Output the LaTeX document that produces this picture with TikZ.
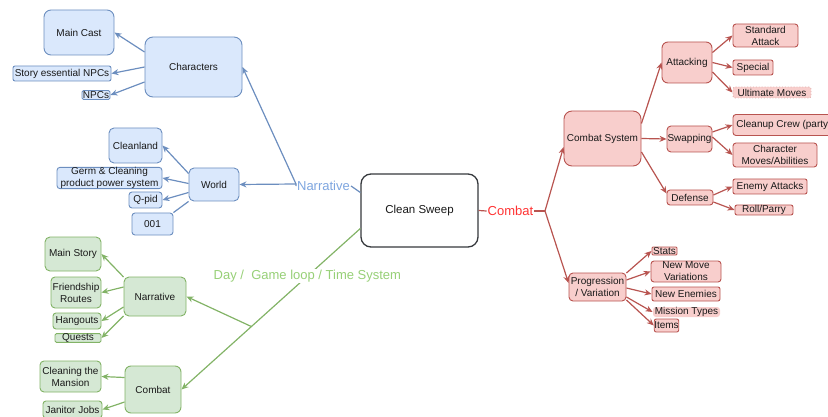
\documentclass[tikz,border=0pt]{standalone}
\usepackage{fontspec}
\setmainfont{Liberation Sans}
\usetikzlibrary{arrows.meta}

\definecolor{bfill}{HTML}{DAE8FC}
\definecolor{bline}{HTML}{6C8EBF}
\definecolor{btext}{HTML}{7EA6E0}
\definecolor{gfill}{HTML}{D5E8D4}
\definecolor{gline}{HTML}{82B366}
\definecolor{gtext}{HTML}{97D077}
\definecolor{rfill}{HTML}{F8CECC}
\definecolor{rline}{HTML}{B85450}
\definecolor{rtext}{HTML}{FF3333}
\definecolor{cdark}{HTML}{36393D}

\tikzset{
  sz/.style 2 args={minimum width=#1pt, minimum height=#2pt},
  rc/.style={rounded corners=#1pt},
  box/.style={rectangle, rounded corners=3pt, inner sep=0pt, line width=0.9pt,
    align=center, text=black!90, font=\fontsize{10}{12}\selectfont},
  bbox/.style={box, draw=bline, fill=bfill},
  gbox/.style={box, draw=gline, fill=gfill},
  rbox/.style={box, draw=rline, fill=rfill},
  lbl/.style={font=\fontsize{13}{15}\selectfont, inner sep=1pt, fill=white},
  link/.style={line width=1.2pt},
  edge/.style={link, -{Stealth[length=7pt,width=6pt]}},
  bedge/.style={edge, draw=bline},
  gedge/.style={edge, draw=gline},
  redge/.style={edge, draw=rline},
}

\begin{document}
\begin{tikzpicture}[x=1pt,y=-1pt]
\useasboundingbox (0,0) rectangle (828,417);
\clip (0,0) rectangle (828,417);

% centre
\node[box, draw=cdark, fill=white, line width=1.3pt, sz={117}{73}, rc=10,
  font=\fontsize{11.5}{13}\selectfont] (sweep) at (419.5,210.5) {Clean Sweep};

% narrative branch
\node[bbox, sz={97}{60}, rc=8] (chars) at (193.5,67) {Characters};
\node[bbox, sz={70}{45}, rc=7] (maincast) at (79,32.5) {Main Cast};
\node[bbox, sz={98}{15}, rc=2] (storynpc) at (62,73.5) {Story essential NPCs};
\node[bbox, sz={28}{9}, rc=1.5] (npcs) at (96,95) {NPCs};
\node[bbox, sz={50}{33}, rc=5] (world) at (214,184.5) {World};
\node[bbox, sz={53}{35}, rc=5] (cleanland) at (135.5,145.5) {Cleanland};
\node[bbox, sz={105}{20}, rc=3] (germ) at (109.5,178) {Germ \& Cleaning\\product power system};
\node[bbox, sz={33}{16}, rc=3] (qpid) at (145.5,200) {Q-pid};
\node[bbox, sz={41}{22}, rc=3] (n001) at (152.5,224) {001};
\node[lbl, text=btext] (narrlabel) at (323.5,186) {Narrative};
\coordinate (narrbr) at (296,184);

\draw[link, draw=bline] ([yshift=18pt]sweep.west) -- (narrlabel.east);
\draw[link, draw=bline] (narrlabel.west) -- (narrbr);
\draw[bedge] (narrbr) -- (chars.east);
\draw[bedge] (narrbr) -- (world.east);
\draw[bedge] ([yshift=15pt]chars.west) -- (maincast.east);
\draw[bedge] (chars.west) -- (storynpc.east);
\draw[bedge] ([yshift=-15pt]chars.west) -- (npcs.east);
\draw[bedge] ([yshift=11pt]world.west) -- (cleanland.east);
\draw[bedge] ([yshift=1pt]world.west) -- (germ.east);
\draw[bedge] ([yshift=-8pt]world.west) -- (qpid.east);
\draw[link, draw=bline] (world.south west) -- (n001.north east);

% day loop branch
\node[gbox, sz={62}{39}, rc=5] (gnarr) at (155,296.5) {Narrative};
\node[gbox, sz={56}{34}, rc=5] (mainstory) at (73,254) {Main Story};
\node[gbox, sz={50}{31}, rc=4] (friend) at (76,292.5) {Friendship\\Routes};
\node[gbox, sz={48}{16}, rc=3] (hangouts) at (77,321) {Hangouts};
\node[gbox, sz={46}{8}, rc=1.5] (quests) at (78,338) {Quests};
\node[gbox, sz={56}{47}, rc=6] (gcombat) at (153,389.5) {Combat};
\node[gbox, sz={61}{31}, rc=4] (cleaning) at (70.5,376.5) {Cleaning the\\Mansion};
\node[gbox, sz={59}{17}, rc=3] (janitor) at (72.5,409.5) {Janitor Jobs};

\draw[gedge] ([yshift=-18pt]sweep.west) --
  node[lbl, text=gtext, pos=0.296] (daylabel) {Day /\ \ Game loop / Time System}
  coordinate[pos=0.609] (daybr) (gcombat.east);
\draw[gedge] (daybr) -- (gnarr.east);
\draw[gedge] ([yshift=19.5pt]gnarr.west) -- (mainstory.east);
\draw[gedge] ([yshift=9.5pt]gnarr.west) -- (friend.east);
\draw[gedge] ([yshift=-10.5pt]gnarr.west) -- (hangouts.east);
\draw[gedge] ([yshift=-19.5pt]gnarr.west) -- (quests.east);
\draw[gedge] ([yshift=12pt]gcombat.west) -- (cleaning.east);
\draw[gedge] ([yshift=-12.5pt]gcombat.west) -- (janitor.east);

% combat branch
\node[rbox, sz={77}{55}, rc=8] (combsys) at (602.5,138.5) {Combat System};
\node[rbox, sz={50}{41}, rc=6] (attack) at (687,62.5) {Attacking};
\node[rbox, sz={65}{23}, rc=3] (stdatk) at (765.5,35.5) {Standard\\Attack};
\node[rbox, sz={40}{15}, rc=2] (special) at (753,67.5) {Special};
\node[rbox, sz={78}{11}, rc=2, draw=rline!45, dotted] (ultimate) at (772,92.5) {Ultimate Moves};
\node[rbox, sz={102}{21}, rc=3] (crew) at (784,125) {Cleanup Crew (party)};
\node[rbox, sz={45}{26}, rc=4] (swap) at (689.5,139) {Swapping};
\node[rbox, sz={84}{24}, rc=3] (charmoves) at (775,155) {Character\\Moves/Abilities};
\node[rbox, sz={46}{15}, rc=3] (defense) at (690,197.5) {Defense};
\node[rbox, sz={74}{15}, rc=2] (enemyatk) at (770,186.5) {Enemy Attacks};
\node[rbox, sz={58}{10}, rc=2] (roll) at (764,210) {Roll/Parry};
\node[rbox, sz={57}{28}, rc=4] (progr) at (597.5,287) {Progression\\/ Variation};
\node[rbox, sz={25}{8}, rc=1] (stats) at (664.5,251) {Stats};
\node[rbox, sz={70}{21}, rc=3] (newmove) at (686,271.5) {New Move\\Variations};
\node[rbox, sz={68}{14}, rc=2] (newenemy) at (686,294) {New Enemies};
\node[rbox, sz={67}{10}, draw=none] (mission) at (686.5,312) {Mission Types};
\node[rbox, sz={21}{13}, rc=2] (items) at (666.5,325.5) {Items};
\node[lbl, text=rtext] (combatlabel) at (510.5,211) {Combat};
\coordinate (combr) at (545,211);

\draw[link, draw=rline] (sweep.east) -- (combatlabel.west);
\draw[link, draw=rline] (combatlabel.east) -- (combr);
\draw[redge] (combr) -- ([yshift=-8.5pt]combsys.west);
\draw[redge] (combr) -- ([yshift=4pt]progr.west);
\draw[redge] ([yshift=15pt]combsys.east) -- (attack.west);
\draw[redge] (combsys.east) -- (swap.west);
\draw[redge] ([yshift=-13.5pt]combsys.east) -- ([yshift=4pt]defense.west);
\draw[redge] ([yshift=10pt]attack.east) -- (stdatk.west);
\draw[redge] (attack.east) -- (special.west);
\draw[redge] ([yshift=-9.5pt]attack.east) -- (ultimate.west);
\draw[redge] ([yshift=7pt]swap.east) -- (crew.west);
\draw[redge] ([yshift=2pt]swap.east) -- (charmoves.west);
\draw[redge] ([yshift=2.5pt]defense.east) -- (enemyatk.west);
\draw[redge] ([yshift=-4.5pt]defense.east) -- (roll.west);
\draw[redge] ([yshift=14pt]progr.east) -- (stats.west);
\draw[redge] ([yshift=7pt]progr.east) -- (newmove.west);
\draw[redge] ([yshift=-1pt]progr.east) -- (newenemy.west);
\draw[redge] ([yshift=-10pt]progr.east) -- (mission.west);
\draw[redge] ([yshift=-13pt]progr.east) -- (items.west);
\end{tikzpicture}
\end{document}
